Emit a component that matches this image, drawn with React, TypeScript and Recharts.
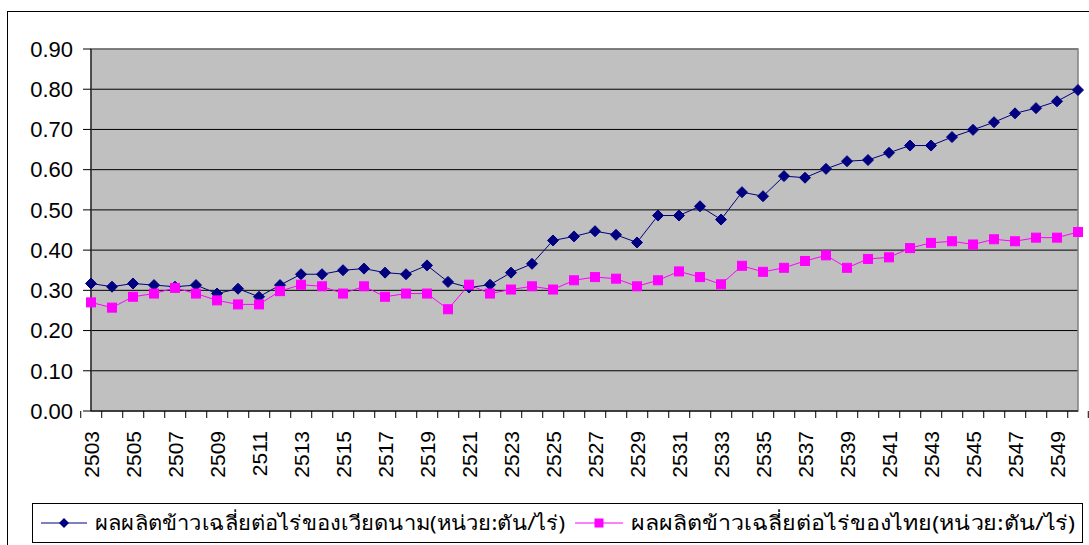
import React from 'react';
import { LineChart, Line, XAxis, YAxis, CartesianGrid, Legend, ReferenceArea } from 'recharts';

const years = [
  '2503', '2504', '2505', '2506', '2507', '2508', '2509', '2510', '2511', '2512',
  '2513', '2514', '2515', '2516', '2517', '2518', '2519', '2520', '2521', '2522',
  '2523', '2524', '2525', '2526', '2527', '2528', '2529', '2530', '2531', '2532',
  '2533', '2534', '2535', '2536', '2537', '2538', '2539', '2540', '2541', '2542',
  '2543', '2544', '2545', '2546', '2547', '2548', '2549', '2550',
];

const vietnamYield = [
  0.317, 0.309, 0.317, 0.313, 0.309, 0.313, 0.292, 0.304, 0.284, 0.313,
  0.340, 0.340, 0.350, 0.354, 0.344, 0.340, 0.362, 0.321, 0.307, 0.314,
  0.344, 0.366, 0.424, 0.434, 0.447, 0.438, 0.419, 0.486, 0.486, 0.509,
  0.476, 0.544, 0.534, 0.584, 0.580, 0.602, 0.621, 0.624, 0.642, 0.660,
  0.660, 0.681, 0.699, 0.718, 0.740, 0.753, 0.770, 0.798,
];

const thaiYield = [
  0.270, 0.257, 0.284, 0.292, 0.306, 0.292, 0.275, 0.265, 0.265, 0.298,
  0.314, 0.310, 0.292, 0.310, 0.284, 0.292, 0.292, 0.253, 0.314, 0.292,
  0.302, 0.310, 0.302, 0.325, 0.333, 0.329, 0.310, 0.325, 0.347, 0.333,
  0.315, 0.361, 0.346, 0.356, 0.373, 0.387, 0.356, 0.378, 0.382, 0.405,
  0.418, 0.422, 0.414, 0.427, 0.422, 0.431, 0.431, 0.445,
];

const yTicks = [0, 0.1, 0.2, 0.3, 0.4, 0.5, 0.6, 0.7, 0.8, 0.9];

const vietnamName = 'ผลผลิตข้าวเฉลี่ยต่อไร่ของเวียดนาม(หน่วย:ตัน/ไร่)';
const thaiName = 'ผลผลิตข้าวเฉลี่ยต่อไร่ของไทย(หน่วย:ตัน/ไร่)';

const VN_COLOR = '#000080';
const TH_COLOR = '#FF00FF';

const data = years.map((y, i) => ({ year: y, vn: vietnamYield[i], th: thaiYield[i] }));

const FONT = 'Arial, "Liberation Sans", sans-serif';

const Diamond = (props: any) => {
  const { cx, cy, fill } = props;
  if (cx == null || cy == null) return null;
  const r = 5.5;
  return <path d={`M${cx},${cy - r}L${cx + r},${cy}L${cx},${cy + r}L${cx - r},${cy}Z`} fill={fill} stroke={fill} />;
};

const Square = (props: any) => {
  const { cx, cy, fill } = props;
  if (cx == null || cy == null) return null;
  const s = 9;
  return <rect x={cx - s / 2} y={cy - s / 2} width={s} height={s} fill={fill} stroke={fill} />;
};

const XTick = (props: any) => {
  const { x, y, payload, index } = props;
  const half = payload && typeof payload.offset === 'number' && payload.offset > 0 ? payload.offset : 10.28;
  const isLast = index === years.length - 1;
  return (
    <g>
      <line x1={x - half} x2={x - half} y1={y} y2={y + 7} stroke="#000" />
      {isLast && <line x1={x + half} x2={x + half} y1={y} y2={y + 7} stroke="#000" />}
      {index % 2 === 0 && (
        <text
          x={x}
          y={y + 20}
          transform={`rotate(-90 ${x} ${y + 20})`}
          textAnchor="end"
          dy="0.36em"
          fontSize={21}
          fontFamily={FONT}
          fill="#000"
        >
          {payload.value}
        </text>
      )}
    </g>
  );
};

const LegendBox = (props: any) => {
  const payload = props.payload || [];
  const layout = [
    { lx1: 9, lx2: 55, tx: 63, tl: 470 },
    { lx1: 543, lx2: 591, tx: 599, tl: 444 },
  ];
  return (
    <svg width={1051} height={40} style={{ display: 'block' }}>
      <rect x={0.5} y={0.5} width={1050} height={39} fill="#fff" stroke="#000" />
      {payload.map((p: any, i: number) => {
        const L = layout[i] || layout[0];
        const mx = (L.lx1 + L.lx2) / 2;
        const my = 20;
        return (
          <g key={i}>
            <line x1={L.lx1} x2={L.lx2} y1={my} y2={my} stroke={p.color} strokeWidth={1} />
            {i === 0 ? (
              <path d={`M${mx},${my - 5}L${mx + 5},${my}L${mx},${my + 5}L${mx - 5},${my}Z`} fill={p.color} />
            ) : (
              <rect x={mx - 4.5} y={my - 4.5} width={9} height={9} fill={p.color} />
            )}
            <text
              x={L.tx}
              y={my}
              dy="0.35em"
              fontSize={20}
              fontFamily='Tahoma, "Noto Sans", sans-serif'
              fill="#000"
              textLength={L.tl}
              lengthAdjust="spacingAndGlyphs"
            >
              {p.value}
            </text>
          </g>
        );
      })}
    </svg>
  );
};

export default function App() {
  return (
    <div style={{ position: 'absolute', left: 0, top: 0, width: 1089, height: 545, overflow: 'hidden', background: '#fff' }}>
      <div
        style={{
          position: 'absolute',
          left: 7,
          top: 11,
          width: 1200,
          height: 700,
          borderLeft: '1px solid #000',
          borderTop: '1px solid #000',
        }}
      />
      <div style={{ position: 'absolute', left: 0, top: 0 }}>
        <LineChart width={1089} height={545} data={data} margin={{ top: 49, right: 11, bottom: 2, left: 0 }}>
          <CartesianGrid vertical={false} stroke="#000" fill="#C0C0C0" fillOpacity={1} />
          <ReferenceArea y1={0} y2={0.9} fill="none" stroke="#808080" strokeWidth={1.5} ifOverflow="visible" />
          <XAxis
            dataKey="year"
            interval={0}
            height={92}
            tickLine={false}
            tickSize={0}
            tickMargin={0}
            axisLine={{ stroke: '#000' }}
            tick={<XTick />}
          />
          <YAxis
            width={91}
            domain={[0, 0.9]}
            ticks={yTicks}
            interval={0}
            tickFormatter={(v: number) => v.toFixed(2)}
            tick={{ fontSize: 22, fontFamily: FONT, fill: '#000' }}
            tickSize={8}
            tickMargin={10}
            tickLine={{ stroke: '#000' }}
            axisLine={{ stroke: '#000' }}
          />
          <Legend
            verticalAlign="bottom"
            align="left"
            height={40}
            wrapperStyle={{ left: 32, width: 1051 }}
            content={<LegendBox />}
          />
          <Line
            dataKey="vn"
            name={vietnamName}
            stroke={VN_COLOR}
            fill={VN_COLOR}
            strokeWidth={1}
            dot={<Diamond />}
            activeDot={false}
            isAnimationActive={false}
          />
          <Line
            dataKey="th"
            name={thaiName}
            stroke={TH_COLOR}
            fill={TH_COLOR}
            strokeWidth={1}
            dot={<Square />}
            activeDot={false}
            isAnimationActive={false}
          />
        </LineChart>
      </div>
    </div>
  );
}
